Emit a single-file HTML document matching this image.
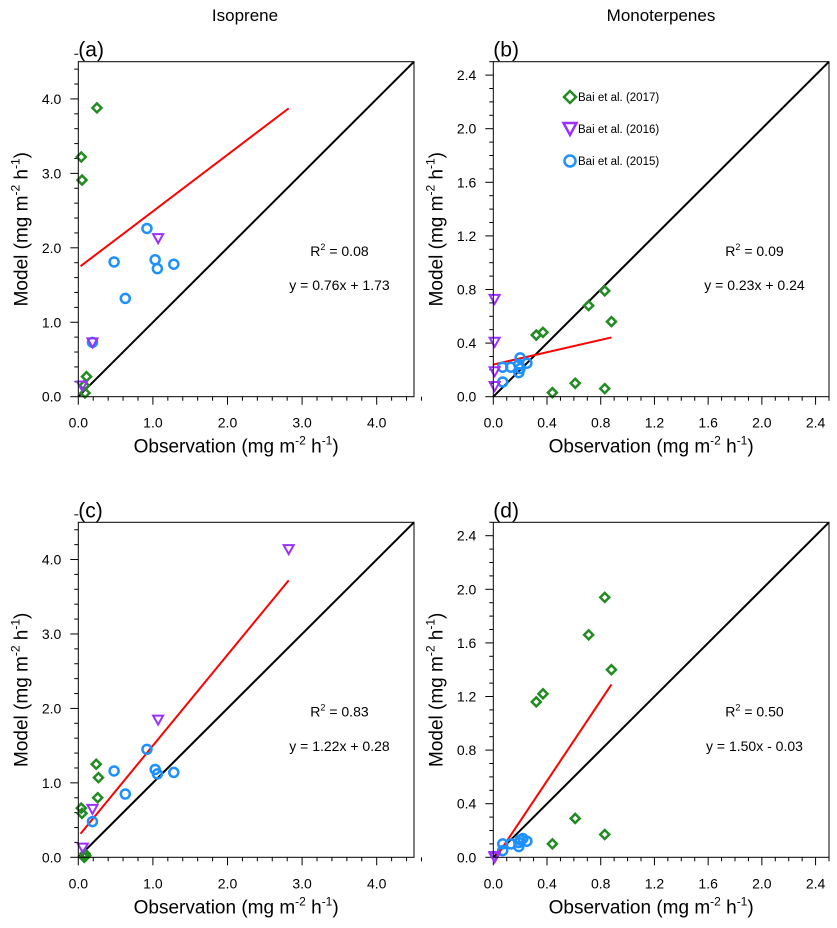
<!DOCTYPE html>
<html><head><meta charset="utf-8"><style>
html,body{margin:0;padding:0;background:#fff;}
svg{display:block;font-family:"Liberation Sans",Arial,sans-serif;}
</style></head><body>
<svg id="fig" width="837" height="928" viewBox="0 0 837 928" xmlns="http://www.w3.org/2000/svg">
<text x="245" y="21" font-size="17" text-anchor="middle">Isoprene</text>
<text x="661" y="21" font-size="17" text-anchor="middle">Monoterpenes</text>
</svg>
<script>
// Panel (a) isoprene
const aGreenX=[0.25,0.04,0.05,0.11,0.08,0.09];
const aGreenY=[3.88,3.22,2.91,0.27,0.15,0.05];
const aPurpleX=[1.07,0.19,0.05];
const aPurpleY=[2.13,0.73,0.15];
const aBlueX=[0.92,0.48,1.03,1.06,1.28,0.63,0.19];
const aBlueY=[2.26,1.81,1.84,1.72,1.78,1.32,0.73];
const aFit=[0.76,1.73,0.03,2.82];
// Panel (b) monoterpenes
const bGreenX=[0.83,0.71,0.88,0.37,0.32,0.61,0.44,0.83];
const bGreenY=[0.79,0.68,0.56,0.48,0.46,0.10,0.03,0.06];
const bPurpleX=[0.01,0.01,0.01,0.01];
const bPurpleY=[0.73,0.41,0.19,0.08];
const bBlueX=[0.20,0.07,0.13,0.19,0.25,0.19,0.07,0.20];
const bBlueY=[0.29,0.22,0.22,0.24,0.25,0.18,0.11,0.21];
const bFit=[0.23,0.24,0.0,0.88];
// Panel (c) isoprene
const cGreenX=[0.24,0.27,0.26,0.04,0.05,0.09,0.10,0.08];
const cGreenY=[1.25,1.07,0.80,0.66,0.59,0.05,0.02,0.00];
const cPurpleX=[2.82,1.07,0.19,0.06];
const cPurpleY=[4.14,1.85,0.65,0.13];
const cBlueX=[0.92,0.48,1.03,1.06,1.28,0.63,0.19];
const cBlueY=[1.45,1.16,1.18,1.12,1.14,0.85,0.48];
const cFit=[1.22,0.28,0.03,2.82];
// Panel (d) monoterpenes
const dGreenX=[0.83,0.71,0.88,0.37,0.32,0.61,0.83,0.44];
const dGreenY=[1.94,1.66,1.40,1.22,1.16,0.29,0.17,0.10];
const dPurpleX=[0.01,0.01];
const dPurpleY=[0.01,0.00];
const dBlueX=[0.07,0.07,0.13,0.19,0.20,0.22,0.25,0.19];
const dBlueY=[0.10,0.05,0.10,0.08,0.13,0.14,0.12,0.11];
const dFit=[1.50,-0.03,0.02,0.88];
const isoTicks=["0.0","1.0","2.0","3.0","4.0"];
const monoTicks=["0.0","0.4","0.8","1.2","1.6","2.0","2.4"];

const NS="http://www.w3.org/2000/svg";
const svg=document.getElementById('fig');
const GREEN="#228B22",PURPLE="#9B30FF",BLUE="#1E90FF";
function mk(tag,attrs,parent){const e=document.createElementNS(NS,tag);for(const k in attrs)e.setAttribute(k,attrs[k]);(parent||svg).appendChild(e);return e;}

function panel(o){
  const g=mk('g',{});
  
  
  const L=o.L,T=o.T,W=o.W,H=o.H,max=o.max;
  const sx=v=>L+v/max*W, sy=v=>T+H-v/max*H;
  const nMinor=Math.round(max/o.minor);
  for(let i=0;i<=nMinor;i++){
    const v=i*o.minor;
    const isMaj=Math.abs(v/o.major-Math.round(v/o.major))<1e-6;
    const len=isMaj?8:4;
    mk('line',{x1:L-len,x2:L,y1:sy(v),y2:sy(v),stroke:'#000','stroke-width':1},g);
    mk('line',{x1:sx(v),x2:sx(v),y1:T+H,y2:T+H+len,stroke:'#000','stroke-width':1},g);
  }
  o.ticks.forEach((t,i)=>{
    const v=i*o.major;
    const ty=mk('text',{x:L-17,y:sy(v)+5,'font-size':14,'text-anchor':'end'},g);ty.textContent=t;
    
    
    const tx=mk('text',{x:sx(v),y:T+H+31,'font-size':14,'text-anchor':'middle'},g);tx.textContent=t;
    
    
  });
  const one=mk('line',{x1:sx(0),y1:sy(0),x2:sx(max),y2:sy(max),stroke:'#000','stroke-width':2},g);
  
  
  const f=o.fit;
  const fl=mk('line',{x1:sx(f[2]),y1:sy(f[0]*f[2]+f[1]),x2:sx(f[3]),y2:sy(f[0]*f[3]+f[1]),stroke:'#FF0000','stroke-width':2},g);
  
  
  o.gx.forEach((x,i)=>{const cx=sx(x),cy=sy(o.gy[i]);
    const m=mk('polygon',{points:`${cx},${cy-4.5} ${cx+4.5},${cy} ${cx},${cy+4.5} ${cx-4.5},${cy}`,fill:'none',stroke:GREEN,'stroke-width':2.5},g);
    
    });
  o.bx.forEach((x,i)=>{
    const m=mk('circle',{cx:sx(x),cy:sy(o.by[i]),r:4.5,fill:'none',stroke:BLUE,'stroke-width':2.5},g);
    
    });
  o.px.forEach((x,i)=>{const cx=sx(x),cy=sy(o.py[i]);
    const m=mk('polygon',{points:`${cx-5},${cy-4} ${cx+5},${cy-4} ${cx},${cy+5}`,fill:'none',stroke:PURPLE,'stroke-width':2},g);
    
    });
  mk('rect',{x:L,y:T,width:W,height:H,fill:'none',stroke:'#000','stroke-width':1},g);
  const pl=mk('text',{x:L,y:T-5,'font-size':21},g);pl.textContent='('+o.id+')';
  
  
  const xt=mk('text',{x:L+W/2-10,y:T+H+56,'font-size':19,'text-anchor':'middle'},g);
  xt.innerHTML='Observation (mg m<tspan dy="-8" font-size="12">-2</tspan><tspan dy="8"> h</tspan><tspan dy="-8" font-size="12">-1</tspan><tspan dy="8">)</tspan>';
  
  
  const yx=o.L-51, yy=T+H/2;
  const yt=mk('text',{x:yx,y:yy,'font-size':19,'text-anchor':'middle',transform:`rotate(-90 ${yx} ${yy})`},g);
  yt.innerHTML='Model (mg m<tspan dy="-8" font-size="12">-2</tspan><tspan dy="8"> h</tspan><tspan dy="-8" font-size="12">-1</tspan><tspan dy="8">)</tspan>';
  
  
  const r2=mk('text',{x:L+W*0.778,y:T+H*0.58,'font-size':14,'text-anchor':'middle'},g);
  r2.innerHTML='R<tspan dy="-6" font-size="9">2</tspan><tspan dy="6"> = '+o.r2+'</tspan>';
  
  
  const eq=mk('text',{x:L+W*0.778,y:T+H*0.682,'font-size':14,'text-anchor':'middle'},g);eq.textContent=o.eq;
  
  
  return g;
}
const isoCfg={W:335.7,H:335,max:4.5,major:1,minor:0.2,ticks:isoTicks};
const monoCfg={W:335.7,H:335,max:2.5,major:0.4,minor:0.1,ticks:monoTicks};
panel(Object.assign({id:'a',L:78.3,T:61.7,gx:aGreenX,gy:aGreenY,px:aPurpleX,py:aPurpleY,bx:aBlueX,by:aBlueY,fit:aFit,r2:'0.08',eq:'y = 0.76x + 1.73'},isoCfg));
panel(Object.assign({id:'b',L:493.3,T:61.7,gx:bGreenX,gy:bGreenY,px:bPurpleX,py:bPurpleY,bx:bBlueX,by:bBlueY,fit:bFit,r2:'0.09',eq:'y = 0.23x + 0.24'},monoCfg));
panel(Object.assign({id:'c',L:78.3,T:522.3,gx:cGreenX,gy:cGreenY,px:cPurpleX,py:cPurpleY,bx:cBlueX,by:cBlueY,fit:cFit,r2:'0.83',eq:'y = 1.22x + 0.28'},isoCfg));
panel(Object.assign({id:'d',L:493.3,T:522.3,gx:dGreenX,gy:dGreenY,px:dPurpleX,py:dPurpleY,bx:dBlueX,by:dBlueY,fit:dFit,r2:'0.50',eq:'y = 1.50x - 0.03'},monoCfg));
const lg=mk('g',{});


const lx=570;
const e1=mk('polygon',{points:`${lx},${91} ${lx+6},${97} ${lx},${103} ${lx-6},${97}`,fill:'none',stroke:GREEN,'stroke-width':2.5},lg);


const e2=mk('polygon',{points:`${lx-6.5},${123} ${lx+6.5},${123} ${lx},${135}`,fill:'none',stroke:PURPLE,'stroke-width':2.5},lg);


const e3=mk('circle',{cx:lx,cy:161,r:5.5,fill:'none',stroke:BLUE,'stroke-width':2.5},lg);


[['Bai et al. (2017)',101],['Bai et al. (2016)',133],['Bai et al. (2015)',165]].forEach(([t,y])=>{
  const tx=mk('text',{x:578,y:y,'font-size':11.5},lg);tx.textContent=t;
  
  
});
</script>
</body></html>
